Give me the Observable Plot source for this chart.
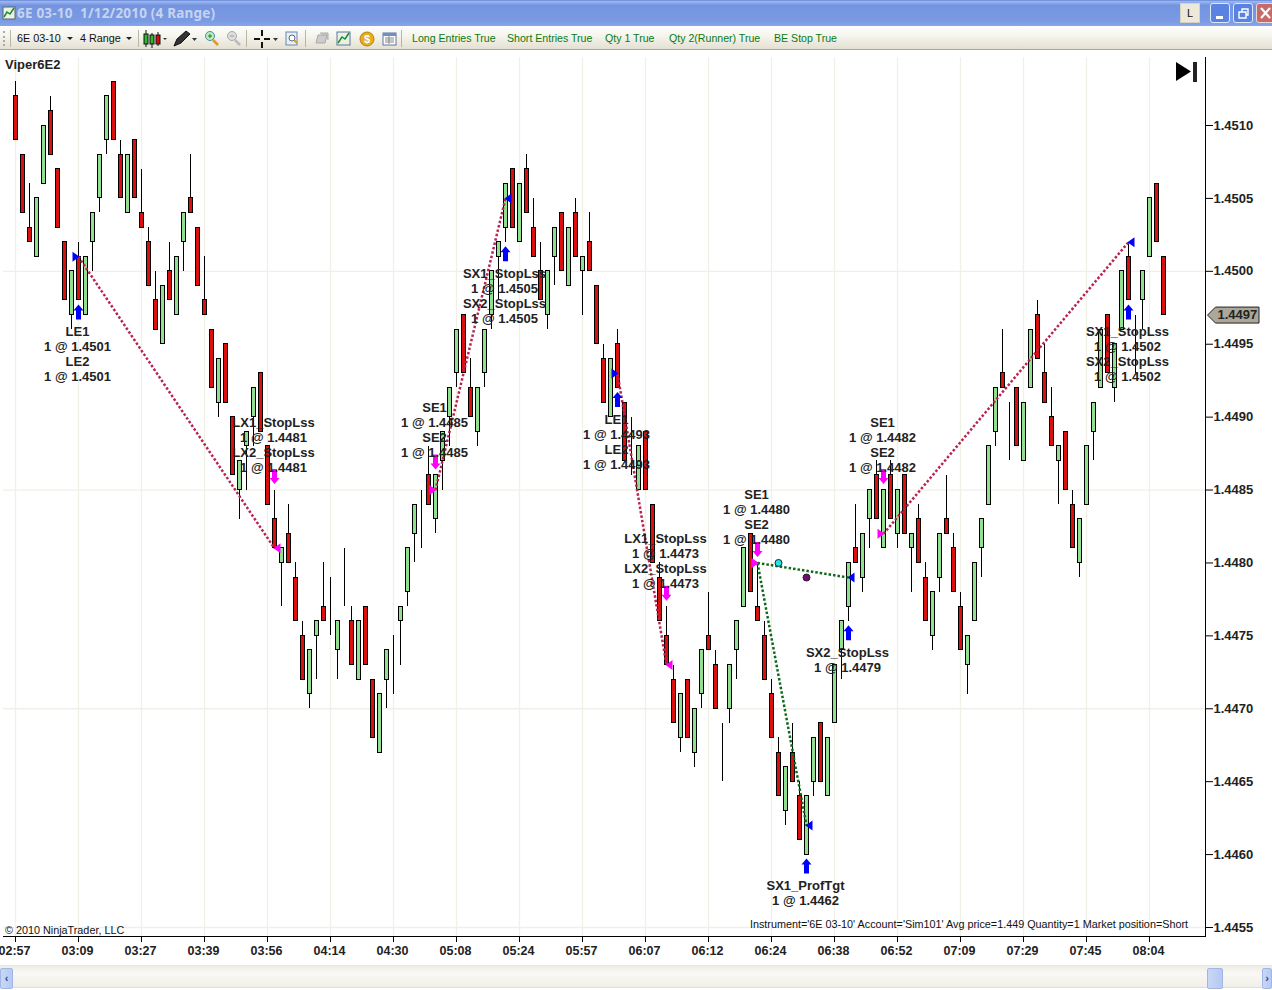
<!DOCTYPE html>
<html><head><meta charset="utf-8">
<script src="https://cdn.jsdelivr.net/npm/d3@7"></script>
<script src="https://cdn.jsdelivr.net/npm/@observablehq/plot@0.6"></script>
<style>
html,body{margin:0;padding:0;background:#fff;width:1272px;height:990px;overflow:hidden;font-family:"Liberation Sans",Arial,sans-serif}
.abs{position:absolute;white-space:pre}
#titlebar{left:0;top:0;width:1272px;height:26px;background:linear-gradient(#5f83d6 0,#9db6ee 6%,#7394e0 20%,#7a9ae3 80%,#86a5ea 100%)}
#toolbar{left:0;top:26px;width:1272px;height:24px;background:linear-gradient(#fdfdfb,#f6f5ef 40%,#e4e1d2);border-bottom:1px solid #aca78f;box-sizing:border-box}
#chart{left:0;top:50px}
#scroll{left:0;top:965px;width:1272px;height:23px;background:linear-gradient(#eeece6,#f9f8f4 35%,#f1efe8);border-top:1px solid #e8e6df;border-bottom:1px solid #ddd;box-sizing:border-box}
.tb{font-size:10.8px;color:#111;top:32px}
.grn{font-size:10.6px;color:#0a7a12;top:32px}
.sep{top:30px;width:1px;height:17px;background:#b9b6a6}
</style></head><body>
<div id="titlebar" class="abs"></div>
<svg class="abs" style="left:2px;top:5px" width="14" height="16"><rect x="1" y="2" width="12" height="12" fill="#eaf2e6" stroke="#567"/><path d="M2 12L5 7L8 9L12 3" stroke="#1b8a2c" fill="none" stroke-width="1.5"/></svg>
<div class="abs" style="left:17px;top:4px;font:bold 13.5px 'Noto Sans',sans-serif;color:#c7d3ef;letter-spacing:.2px">6E 03-10  1/12/2010 (4 Range)</div>
<div class="abs" style="left:1180px;top:3px;width:20px;height:20px;background:#ece9d8;border:1px solid #d5d2c2;box-sizing:border-box;text-align:center;font-size:11px;line-height:19px;color:#111">L</div>
<div class="abs" style="left:1210px;top:3px;width:20px;height:20px;background:#5a82e0;border:1px solid #dfe8fa;box-sizing:border-box;border-radius:3px"><div style="position:absolute;left:5px;top:12px;width:7px;height:3px;background:#fff"></div></div>
<div class="abs" style="left:1233px;top:3px;width:20px;height:20px;background:#5a82e0;border:1px solid #dfe8fa;box-sizing:border-box;border-radius:3px"><svg width="18" height="18" style="position:absolute;left:0;top:0"><path d="M5 8h7v6h-7zM8 8v-3h6v6h-2" fill="none" stroke="#fff" stroke-width="1.4"/></svg></div>
<div class="abs" style="left:1256px;top:3px;width:20px;height:20px;background:#c86a6a;border:1px solid #e8d8d8;box-sizing:border-box;border-radius:3px"><svg width="16" height="18" style="position:absolute;left:0;top:0"><path d="M4 4L13 14M13 4L4 14" stroke="#fff" stroke-width="2.2"/></svg></div>

<div id="toolbar" class="abs"></div>
<div class="abs" style="left:3px;top:31px;width:2px;height:15px;border-left:2px dotted #aaa"></div>
<div class="abs sep" style="left:10px"></div>
<div class="abs tb" style="left:17px">6E 03-10</div><div class="abs" style="left:67px;top:37px;border:3px solid transparent;border-top-color:#222"></div>
<div class="abs tb" style="left:80px">4 Range</div><div class="abs" style="left:126px;top:37px;border:3px solid transparent;border-top-color:#222"></div>
<div class="abs sep" style="left:138px"></div>
<svg class="abs" style="left:142px;top:29px" width="26" height="20"><path d="M4 1v17M10 4v15M16 3v14" stroke="#111"/><rect x="2" y="5" width="4" height="10" fill="#2fb52f" stroke="#111"/><rect x="8" y="6" width="4" height="9" fill="#2fb52f" stroke="#111"/><rect x="14" y="6" width="4" height="9" fill="#d01010" stroke="#111"/><path d="M21 9l2 2 2-2" fill="#333"/></svg>
<svg class="abs" style="left:171px;top:29px" width="26" height="20"><path d="M3 17L6 10L15 2L19 5L10 14Z" fill="#333" stroke="#111"/><path d="M21 9h5l-2.500 3z" fill="#333"/></svg>
<svg class="abs" style="left:203px;top:30px" width="16" height="18"><circle cx="7" cy="6" r="4.500" fill="#bfe9c0" stroke="#4a8ca8"/><path d="M10 10L15 15" stroke="#d99a2b" stroke-width="2.500"/><path d="M5 6h4M7 4v4" stroke="#1a8a1a"/></svg>
<svg class="abs" style="left:225px;top:30px" width="16" height="18"><circle cx="7" cy="6" r="4.500" fill="#ddd" stroke="#aaa"/><path d="M10 10L15 15" stroke="#bbb" stroke-width="2.500"/><path d="M5 6h4" stroke="#999"/></svg>
<div class="abs sep" style="left:246px"></div>
<svg class="abs" style="left:252px;top:29px" width="28" height="20"><path d="M2 10h6M12 10h6M10 1v6M10 13v6" stroke="#111" stroke-width="2"/><path d="M21 9h5l-2.500 3z" fill="#333"/></svg>
<svg class="abs" style="left:284px;top:30px" width="16" height="18"><rect x="2" y="2" width="11" height="13" fill="#e8eff8" stroke="#6a88b0"/><circle cx="8" cy="8" r="3" fill="#fff" stroke="#567"/><path d="M10 10l3 3" stroke="#d99a2b" stroke-width="2"/></svg>
<div class="abs sep" style="left:305px"></div>
<svg class="abs" style="left:313px;top:30px" width="18" height="18"><path d="M3 13L5 5H14L12 13ZM7 3h8v7" fill="#ccc" stroke="#aaa"/></svg>
<svg class="abs" style="left:336px;top:30px" width="16" height="18"><rect x="1" y="2" width="13" height="13" fill="#e8f1e4" stroke="#5a76a0"/><path d="M2 13L6 7L9 9L13 3" stroke="#1b8a2c" fill="none" stroke-width="1.500"/></svg>
<svg class="abs" style="left:359px;top:30px" width="16" height="18"><circle cx="8" cy="9" r="7" fill="#e7ae1c" stroke="#b9820f"/><text x="8" y="13" font-size="11" font-weight="bold" text-anchor="middle" fill="#fff">$</text></svg>
<svg class="abs" style="left:382px;top:30px" width="16" height="18"><rect x="1" y="3" width="13" height="12" fill="#fff" stroke="#5a76a0"/><rect x="1" y="3" width="13" height="3" fill="#6f8fc8"/><path d="M3 8h9M3 10h9M3 12h9M7 6v8" stroke="#888"/></svg>
<div class="abs sep" style="left:401px"></div>
<div class="abs grn" style="left:412px">Long Entries True</div>
<div class="abs grn" style="left:507px">Short Entries True</div>
<div class="abs grn" style="left:605px">Qty 1 True</div>
<div class="abs grn" style="left:669px">Qty 2(Runner) True</div>
<div class="abs grn" style="left:774px">BE Stop True</div>

<div id="chart" class="abs"></div>

<div class="abs" style="left:5px;top:57px;font:bold 13px 'Liberation Sans';color:#222">Viper6E2</div>
<div class="abs" style="left:5px;top:924px;font:10.8px 'Liberation Sans';color:#111">© 2010 NinjaTrader, LLC</div>
<div class="abs" style="right:84px;top:918px;font:10.8px 'Liberation Sans';color:#111">Instrument='6E 03-10' Account='Sim101' Avg price=1.449 Quantity=1 Market position=Short</div>
<svg class="abs" style="left:1176px;top:61px" width="22" height="22"><path d="M0 1L15 10.500L0 20Z" fill="#000"/><rect x="17" y="1" width="4" height="20" fill="#222"/></svg>

<div id="scroll" class="abs"></div>
<div class="abs" style="left:0;top:968px;width:13px;height:21px;background:linear-gradient(90deg,#c9d7f5,#b6c9f2);border:1px solid #9fb6e6;box-sizing:border-box;border-radius:2px;color:#2a4a8a;font:bold 11px 'Liberation Sans';line-height:18px;text-align:center">‹</div>
<div class="abs" style="left:1207px;top:968px;width:16px;height:21px;background:linear-gradient(90deg,#c9d7f5,#b6c9f2);border:1px solid #9fb6e6;box-sizing:border-box;border-radius:2px"></div>
<div class="abs" style="left:1262px;top:968px;width:10px;height:21px;background:linear-gradient(90deg,#c9d7f5,#b6c9f2);border:1px solid #9fb6e6;box-sizing:border-box;border-radius:2px;color:#2a4a8a;font:bold 11px 'Liberation Sans';line-height:18px;text-align:center">›</div>

<script>
const opens=[4512,4508,4503,4501,4506,4511,4507,4502,4497,4501,
4497,4502,4505,4509,4513,4508,4504,4509,4504,4502,
4498,4495,4500,4497,4502,4505,4503,4498,4496,4491,
4495,4490,4485,4488,4490,4493,4488,4483,4480,4482,
4479,4475,4471,4475,4477,4475,4474,4477,4476,4472,
4477,4472,4467,4472,4475,4476,4478,4482,4485,4486,
4483,4487,4490,4493,4497,4492,4489,4493,4497,4501,
4503,4507,4502,4507,4503,4500,4497,4501,4504,4499,
4504,4500,4502,4499,4494,4490,4495,4491,4486,4485,
4489,4484,4479,4475,4472,4468,4472,4467,4471,4475,
4473,4469,4470,4474,4477,4482,4477,4475,4471,4467,
4463,4467,4464,4460,4465,4469,4464,4469,4474,4477,
4481,4479,4483,4486,4481,4486,4482,4486,4481,4483,
4479,4475,4479,4483,4481,4477,4473,4476,4481,4484,
4489,4493,4491,4492,4487,4492,4497,4493,4490,4487,
4489,4484,4480,4484,4489,4492,4497,4492,4496,4501,
4497,4498,4501,4506,4501];
const closes=[4509,4504,4502,4505,4510,4508,4503,4498,4500,4498,
4501,4504,4508,4512,4509,4505,4508,4505,4503,4499,
4496,4499,4498,4501,4504,4504,4499,4497,4492,4494,
4491,4486,4487,4489,4492,4489,4484,4481,4481,4480,
4476,4472,4474,4476,4476,4475,4476,4477,4473,4476,
4473,4468,4471,4474,4475,4477,4481,4484,4485,4484,
4486,4489,4492,4496,4493,4490,4492,4496,4500,4502,
4506,4503,4506,4504,4501,4498,4500,4503,4500,4503,
4501,4501,4500,4495,4491,4494,4492,4487,4486,4488,
4485,4480,4476,4473,4469,4471,4468,4470,4474,4474,
4470,4469,4473,4476,4481,4478,4476,4472,4468,4464,
4466,4465,4461,4464,4468,4465,4468,4473,4476,4480,
4480,4482,4485,4483,4485,4483,4485,4482,4482,4480,
4476,4478,4482,4482,4478,4474,4475,4480,4483,4488,
4492,4492,4491,4488,4491,4496,4494,4491,4488,4488,
4485,4481,4483,4488,4491,4496,4493,4495,4500,4498,
4497,4500,4505,4502,4497];
const highs=[4513,4508,4506,4505,4510,4512,4507,4502,4500,4502,
4501,4504,4508,4512,4513,4509,4508,4509,4507,4503,
4500,4499,4502,4501,4504,4508,4503,4501,4496,4494,
4495,4490,4487,4489,4492,4493,4488,4485,4481,4484,
4480,4476,4474,4476,4480,4479,4476,4481,4477,4476,
4477,4472,4471,4474,4475,4477,4481,4484,4485,4488,
4486,4489,4492,4496,4497,4494,4492,4496,4500,4502,
4506,4507,4506,4508,4505,4502,4500,4503,4504,4503,
4505,4501,4504,4499,4495,4494,4496,4491,4490,4488,
4489,4484,4480,4477,4473,4471,4472,4470,4474,4478,
4474,4469,4473,4476,4481,4482,4480,4476,4472,4468,
4466,4469,4465,4464,4468,4469,4468,4473,4476,4480,
4484,4482,4485,4487,4485,4487,4485,4486,4482,4484,
4480,4478,4482,4486,4482,4478,4475,4480,4483,4488,
4492,4496,4491,4492,4491,4496,4498,4495,4492,4488,
4489,4485,4483,4488,4491,4496,4497,4495,4500,4502,
4497,4500,4505,4506,4501];
const lows=[4509,4504,4502,4501,4506,4508,4503,4498,4496,4498,
4497,4500,4504,4508,4509,4505,4504,4505,4503,4499,
4496,4495,4498,4497,4500,4504,4499,4497,4492,4490,
4491,4486,4483,4485,4488,4489,4484,4481,4477,4480,
4476,4472,4470,4472,4476,4475,4472,4477,4473,4472,
4473,4468,4467,4470,4471,4473,4477,4480,4481,4484,
4482,4485,4488,4492,4493,4490,4488,4492,4496,4498,
4502,4503,4502,4504,4501,4498,4496,4499,4500,4499,
4501,4497,4500,4495,4491,4490,4492,4487,4486,4485,
4485,4480,4476,4473,4469,4467,4468,4466,4470,4474,
4470,4465,4469,4472,4477,4478,4476,4472,4468,4464,
4462,4465,4461,4460,4464,4465,4464,4469,4472,4476,
4480,4478,4481,4483,4481,4483,4481,4482,4478,4480,
4476,4474,4478,4482,4478,4474,4471,4476,4479,4484,
4488,4492,4487,4488,4487,4492,4494,4491,4488,4484,
4485,4481,4479,4484,4487,4492,4493,4491,4496,4498,
4493,4496,4501,4502,4497];

// x axis: one label every nine bars
const timeLabels=["02:57","03:09","03:27","03:39","03:56","04:14","04:30","05:08","05:24","05:57","06:07","06:12","06:24","06:38","06:52","07:09","07:29","07:45","08:04"];
const barsPerLabel=9;
const priceTicks=[4455,4460,4465,4470,4475,4480,4485,4490,4495,4500,4505,4510];
const priceGrid=[4455,4470,4485,4500];
const lastPrice=4497;

// Executions
const buyBars=[9,70,86,113,119,159];
const buyTexts=["LE1\n1 @ 1.4501\nLE2\n1 @ 1.4501","SX1_StopLss\n1 @ 1.4505\nSX2_StopLss\n1 @ 1.4505","LE1\n1 @ 1.4493\nLE2\n1 @ 1.4493","SX1_ProfTgt\n1 @ 1.4462","SX2_StopLss\n1 @ 1.4479","SX1_StopLss\n1 @ 1.4502\nSX2_StopLss\n1 @ 1.4502"];
const sellBars=[37,60,93,106,124];
const sellTexts=["LX1_StopLss\n1 @ 1.4481\nLX2_StopLss\n1 @ 1.4481","SE1\n1 @ 1.4485\nSE2\n1 @ 1.4485","LX1_StopLss\n1 @ 1.4473\nLX2_StopLss\n1 @ 1.4473","SE1\n1 @ 1.4480\nSE2\n1 @ 1.4480","SE1\n1 @ 1.4482\nSE2\n1 @ 1.4482"];

// Round trips: entry bar, entry price, exit bar, exit price, long or short, won or lost
const tradeFromBar=[9,60,86,106,106,124];
const tradeFromPrice=[4501,4485,4493,4480,4480,4482];
const tradeToBar=[37,70,93,119,113,159];
const tradeToPrice=[4481,4505,4473,4479,4462,4502];
const tradeIsLong=[true,false,true,false,false,false];
const tradeWon=[false,false,false,true,true,false];

// Average-position dots
const dotBars=[109,113];
const dotPrices=[4480,4479];
const dotColors=["#19e6e6","#6d0f6d"];

const P=v=>1+v/10000;
const bars=opens.map((o,i)=>({i,open:P(o),close:P(closes[i]),high:P(highs[i]),low:P(lows[i])}));
const trades=tradeFromBar.map((b,k)=>({x1:b,y1:P(tradeFromPrice[k]),x2:tradeToBar[k],y2:P(tradeToPrice[k]),long:tradeIsLong[k],won:tradeWon[k]}));
const buys=buyBars.map((b,k)=>({i:b,low:bars[b].low,text:buyTexts[k]}));
const sells=sellBars.map((b,k)=>({i:b,high:bars[b].high,text:sellTexts[k]}));
const dots=dotBars.map((b,k)=>({i:b,p:P(dotPrices[k]),c:dotColors[k]}));

const RED="#dc0f0f",GREEN="#90e090",GRID="#f1f0e6",CRIMSON="#b8234f",DKGREEN="#0f6a1c";
const sym=f=>({draw(c){f(c);c.closePath();}});
const upArrow=sym(c=>{c.moveTo(0,-8);c.lineTo(5,-2);c.lineTo(2.5,-2);c.lineTo(2.5,7);c.lineTo(-2.5,7);c.lineTo(-2.5,-2);c.lineTo(-5,-2);});
const downArrow=sym(c=>{c.moveTo(0,8);c.lineTo(5,2);c.lineTo(2.5,2);c.lineTo(2.5,-7);c.lineTo(-2.5,-7);c.lineTo(-2.5,2);c.lineTo(-5,2);});
const triRight=sym(c=>{c.moveTo(1,0);c.lineTo(-6,-5);c.lineTo(-6,5);});
const triLeft=sym(c=>{c.moveTo(-1,0);c.lineTo(6,-5);c.lineTo(6,5);});
const tag=sym(c=>{c.moveTo(2,0);c.lineTo(10,-8);c.lineTo(53.5,-8);c.lineTo(53.5,8);c.lineTo(10,8);});

const up=bars.filter(d=>d.close>d.open),down=bars.filter(d=>d.close<d.open),flat=bars.filter(d=>d.close===d.open);
const halfBody=2/7;
const bodyX={x1:d=>d.i-halfBody,x2:d=>d.i+halfBody,y1:"open",y2:"close",dx:0.5,stroke:"#000",strokeWidth:1,shapeRendering:"crispEdges"};
const tickBars=d3.range(timeLabels.length).map(k=>k*barsPerLabel);
const labelStyle={lineHeight:1.154,textAnchor:"middle",fontSize:13,fontWeight:"bold",fill:"#222",dx:-1};

const chart=Plot.plot({
  width:1272,height:915,
  marginTop:7,marginBottom:29,marginLeft:3,marginRight:67,
  style:{background:"#fff",fontFamily:"Liberation Sans",overflow:"visible"},
  x:{domain:[0,164],range:[15,1163],axis:null},
  y:{domain:[P(4455),P(4510)],range:[877,75],axis:null},
  marks:[
    Plot.gridX(tickBars,{stroke:GRID,strokeOpacity:1,strokeWidth:1.3}),
    Plot.gridY(priceGrid.map(P),{stroke:GRID,strokeOpacity:1,strokeWidth:1.3}),
    Plot.frame({anchor:"right",stroke:"#000"}),
    Plot.frame({anchor:"bottom",stroke:"#000"}),
    Plot.axisY(priceTicks.map(P),{anchor:"right",tickSize:7,tickPadding:1,tickFormat:d=>d.toFixed(4),label:null,fontSize:13,fontWeight:"bold",fill:"#222",stroke:"#000"}),
    Plot.axisX(tickBars,{anchor:"bottom",tickSize:6,text:null,label:null,stroke:"#000"}),
    Plot.axisX(tickBars,{anchor:"bottom",tickSize:0,tickPadding:10,dx:-1,tickFormat:d=>timeLabels[d/barsPerLabel],label:null,fontSize:12.5,fontWeight:"bold",fill:"#222"}),
    // candlesticks
    Plot.ruleX(bars,{x:"i",y1:"low",y2:"high",stroke:"#000",strokeWidth:1,shapeRendering:"crispEdges"}),
    Plot.rect(up,{...bodyX,fill:GREEN}),
    Plot.rect(down,{...bodyX,fill:RED}),
    Plot.rect(flat,{...bodyX}),
    // trade lines
    Plot.link(trades,{x1:"x1",y1:"y1",x2:"x2",y2:"y2",stroke:d=>d.won?DKGREEN:CRIMSON,strokeWidth:2.5,strokeDasharray:"2.5,2"}),
    // entry and exit triangles
    Plot.dot(trades,{x:"x1",y:"y1",symbol:triRight,r:3,fill:d=>d.long?"#0000ff":"#ff00ff"}),
    Plot.dot(trades,{x:"x2",y:"y2",symbol:triLeft,r:3,fill:d=>d.long?"#ff00ff":"#0000ff"}),
    Plot.dot(dots,{x:"i",y:"p",r:3.5,fill:"c",stroke:"#222",strokeWidth:1}),
    // execution arrows
    Plot.dot(buys,{x:"i",y:"low",dy:12,symbol:upArrow,r:3,fill:"#0000ff"}),
    Plot.dot(sells,{x:"i",y:"high",dy:-14,symbol:downArrow,r:3,fill:"#ff00ff"}),
    // labels
    Plot.text(buys,{x:"i",y:"low",text:"text",dy:25,lineAnchor:"top",...labelStyle}),
    Plot.text(sells,{x:"i",y:"high",text:"text",dy:-18.5,lineAnchor:"bottom",...labelStyle}),
    // last-price tag
    Plot.dot([P(lastPrice)],{y:d=>d,frameAnchor:"right",symbol:tag,r:3,fill:"#aba799",stroke:"#222",strokeWidth:1}),
    Plot.text([P(lastPrice)],{y:d=>d,frameAnchor:"right",dx:12,textAnchor:"start",text:d=>d.toFixed(4),fontSize:13,fontWeight:"bold",fill:"#222"})
  ]
});
document.getElementById("chart").appendChild(chart);
</script>
</body></html>
